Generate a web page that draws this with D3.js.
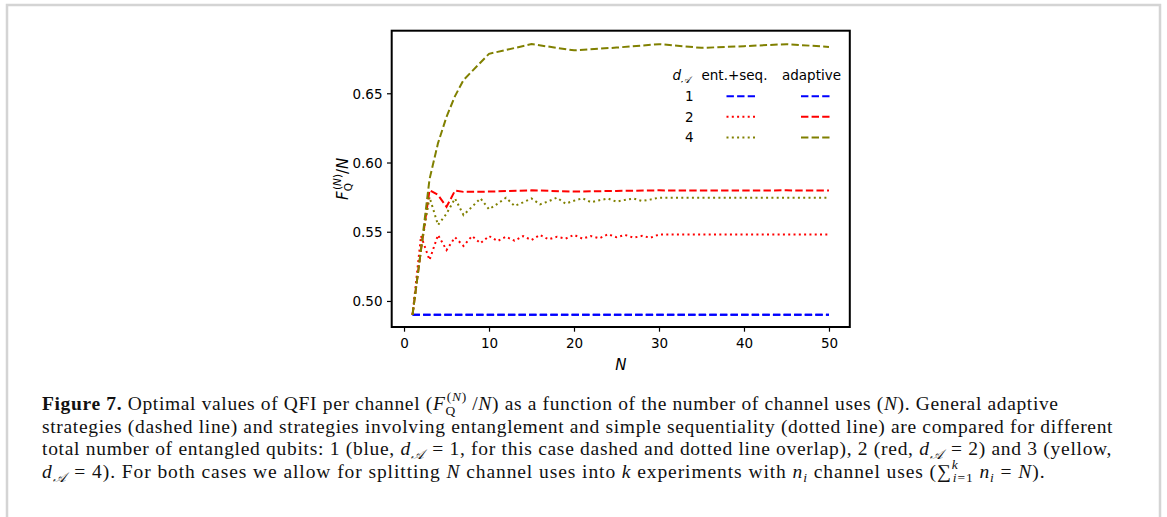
<!DOCTYPE html>
<html><head><meta charset="utf-8">
<script src="https://cdn.jsdelivr.net/npm/d3@7"></script>
<style>body{margin:0;background:#fff}svg{display:block}</style>
</head><body>
<svg id="c" width="1167" height="517"></svg>
<script>
// ---------- data ----------
const nAll = d3.range(1, 51);
const entSeq1 = nAll.map(() => 0.49);
const adaptiveN = [1,2,3,4,5,6,7,10,15,20,25,30,35,40,45,50];
const adaptive1 = adaptiveN.map(() => 0.49);
const entSeq2 = [0.49,0.547,0.5296,0.5477,0.5368,0.5460,0.5397,0.5469,0.5417,0.5469,
  0.5433,0.5464,0.5435,0.5469,0.5440,0.5477,0.5445,0.5464,0.5450,0.5477,
  0.5450,0.5469,0.5453,0.5482,0.5460,0.5477,0.5457,0.5470,0.5457,0.5480,
  0.548,0.548,0.548,0.548,0.548,0.548,0.548,0.548,0.548,0.548,
  0.548,0.548,0.548,0.548,0.548,0.548,0.548,0.548,0.548,0.548];
const adaptive2 = [0.49,0.537,0.5800,0.5766,0.5680,0.5797,0.5788,0.5790,0.5799,0.5790,0.5795,0.5799,0.5797,0.5797,0.5799,0.5797];
const entSeq4 = [0.49,0.538,0.5750,0.5549,0.5630,0.5740,0.5621,0.5680,0.5741,0.5662,
  0.5702,0.5746,0.5686,0.5712,0.5740,0.5698,0.5720,0.5746,0.5703,0.5724,
  0.5742,0.5713,0.5728,0.5740,0.5717,0.5730,0.5740,0.5722,0.5733,0.5746,
  0.5746,0.5746,0.5746,0.5746,0.5746,0.5746,0.5746,0.5746,0.5746,0.5746,
  0.5746,0.5746,0.5746,0.5746,0.5746,0.5746,0.5746,0.5746,0.5746,0.5746];
const adaptive4 = [0.49,0.537,0.588,0.614,0.633,0.648,0.6596,0.6785,0.6855,0.6810,0.6830,0.6855,0.6828,0.6840,0.6855,0.6835];
const xTicks = [0,10,20,30,40,50];
const yTicks = [0.50,0.55,0.60,0.65];
const legendRows = ["1","2","4"];

const series = [
  {n:nAll, v:entSeq1, color:"#0000ff", style:"dashed"},
  {n:adaptiveN, v:adaptive1, color:"#0000ff", style:"dashed"},
  {n:nAll, v:entSeq2, color:"#ff0000", style:"dotted"},
  {n:adaptiveN, v:adaptive2, color:"#ff0000", style:"dashed"},
  {n:nAll, v:entSeq4, color:"#808000", style:"dotted"},
  {n:adaptiveN, v:adaptive4, color:"#808000", style:"dashed"}
];
const dashes = {dashed:"7.4,3.2", dotted:"2,3.3"};

// ---------- layout ----------
const svg = d3.select("#c");
const L = 391.7, R = 849.8, T = 30.7, B = 327;
const x = d3.scaleLinear().domain([-1.45, 52.45]).range([L, R]);
const y = d3.scaleLinear().domain([0.4812, 0.6952]).range([B, T]);
const sans = "'DejaVu Sans', sans-serif";
const serif = "'Liberation Serif', 'Times New Roman', serif";

// page border
svg.append("path").attr("d", "M7,520 V5 H1160 V520").attr("fill","none").attr("stroke","#d4d4d4").attr("stroke-width",2.5);

// clip
svg.append("clipPath").attr("id","clip").append("rect").attr("x",L).attr("y",T).attr("width",R-L).attr("height",B-T);

const line = d3.line().x(d => x(d[0])).y(d => y(d[1]));
const g = svg.append("g").attr("clip-path","url(#clip)");
series.forEach(s => {
  g.append("path").datum(s.n.map((n,i) => [n, s.v[i]]))
    .attr("d", line).attr("fill","none").attr("stroke", s.color)
    .attr("stroke-width", 2).attr("stroke-dasharray", dashes[s.style]);
});

// axes
const xa = svg.append("g").attr("transform", `translate(0,${B})`)
  .call(d3.axisBottom(x).tickValues(xTicks).tickSize(4.7).tickPadding(4).tickFormat(d3.format("d")));
const ya = svg.append("g").attr("transform", `translate(${L},0)`)
  .call(d3.axisLeft(y).tickValues(yTicks).tickSize(4.7).tickPadding(4.5).tickFormat(d3.format(".2f")));
[xa, ya].forEach(a => {
  a.select(".domain").remove();
  a.selectAll("line").attr("stroke","#000").attr("stroke-width",1.2);
  a.selectAll("text").attr("font-family", sans).attr("font-size", 13.5).attr("fill","#000");
});
xa.selectAll("text").attr("dy", null).attr("y", 21);
ya.selectAll("text").attr("dy", "0.35em");

// frame
svg.append("rect").attr("x",L).attr("y",T).attr("width",R-L).attr("height",B-T)
  .attr("fill","none").attr("stroke","#000").attr("stroke-width",2);

// axis labels
svg.append("text").attr("x", (L+R)/2).attr("y", 370).attr("text-anchor","middle")
  .attr("font-family", sans).attr("font-size", 15).attr("font-style","italic").text("N");

const yl = svg.append("text").attr("transform", `translate(348,${(T+B)/2}) rotate(-90)`)
  .attr("text-anchor","middle").attr("font-family", sans).attr("font-size", 15);
yl.append("tspan").attr("font-style","italic").text("F");
yl.append("tspan").attr("font-size", 10.5).attr("dy", 3.5).text("Q");
yl.append("tspan").attr("font-size", 10.5).attr("dx", -7).attr("dy", -11).text("(");
yl.append("tspan").attr("font-size", 10.5).attr("font-style","italic").text("N");
yl.append("tspan").attr("font-size", 10.5).text(")");
yl.append("tspan").attr("dy", 7.5).text("/");
yl.append("tspan").attr("font-style","italic").text("N");

// legend
const lg = svg.append("g").attr("font-family", sans).attr("font-size", 13.5);
const hd = lg.append("text").attr("x", 672.5).attr("y", 80);
hd.append("tspan").attr("font-style","italic").text("d");
hd.append("tspan").attr("font-size", 9.5).attr("font-style","italic").attr("dy", 3).text("\u{1D49C}");
lg.append("text").attr("x", 701.5).attr("y", 80).text("ent.+seq.");
lg.append("text").attr("x", 782).attr("y", 80).text("adaptive");
const legColors = ["#0000ff","#ff0000","#808000"];
const legEnt = ["dashed","dotted","dotted"];
legendRows.forEach((r, i) => {
  const yy = 96.2 + i*20.6;
  lg.append("text").attr("x", 693.5).attr("y", yy+5).attr("text-anchor","end").text(r);
  lg.append("line").attr("x1",726.5).attr("x2",755).attr("y1",yy).attr("y2",yy)
    .attr("stroke",legColors[i]).attr("stroke-width",2).attr("stroke-dasharray",dashes[legEnt[i]]);
  lg.append("line").attr("x1",801).attr("x2",829.5).attr("y1",yy).attr("y2",yy)
    .attr("stroke",legColors[i]).attr("stroke-width",2).attr("stroke-dasharray",dashes.dashed);
});

// caption
const cap = svg.append("g").attr("font-family", serif).attr("font-size", 19.5).attr("fill","#111");
function capLine(yy, width, parts) {
  const t = cap.append("text").attr("x", 42).attr("y", yy)
    .attr("textLength", width).attr("lengthAdjust", "spacing");
  parts.forEach(p => {
    const s = t.append("tspan").text(p.t);
    if (p.b) s.attr("font-weight","bold");
    if (p.i) s.attr("font-style","italic");
    if (p.fs) s.attr("font-size", p.fs);
    if (p.dy) s.attr("dy", p.dy);
    if (p.dx) s.attr("dx", p.dx);
  });
}
const dA = [{t:"d", i:1}, {t:"\u{1D49C}", i:1, fs:13.5, dy:3.5}];
capLine(410, 1016, [
  {t:"Figure 7.", b:1}, {t:" Optimal values of QFI per channel ("},
  {t:"F", i:1}, {t:"Q", fs:13.5, dy:4.5}, {t:"(", fs:13.5, dy:-13.5, dx:-9}, {t:"N", fs:13.5, i:1}, {t:")", fs:13.5},
  {t:" /", dy:9}, {t:"N", i:1}, {t:") as a function of the number of channel uses ("}, {t:"N", i:1},
  {t:"). General adaptive"}
]);
capLine(432.5, 1070.5, [
  {t:"strategies (dashed line) and strategies involving entanglement and simple sequentiality (dotted line) are compared for different"}
]);
capLine(455.2, 1069.5, [
  {t:"total number of entangled qubits: 1 (blue, "}, ...dA, {t:" = 1, for this case dashed and dotted line overlap), 2 (red, ", dy:-3.5, dx:2},
  {t:"d", i:1}, {t:"\u{1D49C}", i:1, fs:13.5, dy:3.5}, {t:" = 2) and 3 (yellow,", dy:-3.5, dx:2}
]);
capLine(478, 1002.5, [
  ...dA, {t:" = 4). For both cases we allow for splitting ", dy:-3.5, dx:2}, {t:"N", i:1},
  {t:" channel uses into "}, {t:"k", i:1}, {t:" experiments with "}, {t:"n", i:1}, {t:"i", i:1, fs:13.5, dy:3.5},
  {t:" channel uses (", dy:-3.5}, {t:"\u2211"}, {t:"k", i:1, fs:13.5, dy:-9}, {t:"i", i:1, fs:13.5, dy:13, dx:-6}, {t:"=1", fs:13.5},
  {t:" "}, {t:"n", i:1, dy:-4}, {t:"i", i:1, fs:13.5, dy:3.5}, {t:" = ", dy:-3.5}, {t:"N", i:1}, {t:")."}
]);
</script>
</body></html>
